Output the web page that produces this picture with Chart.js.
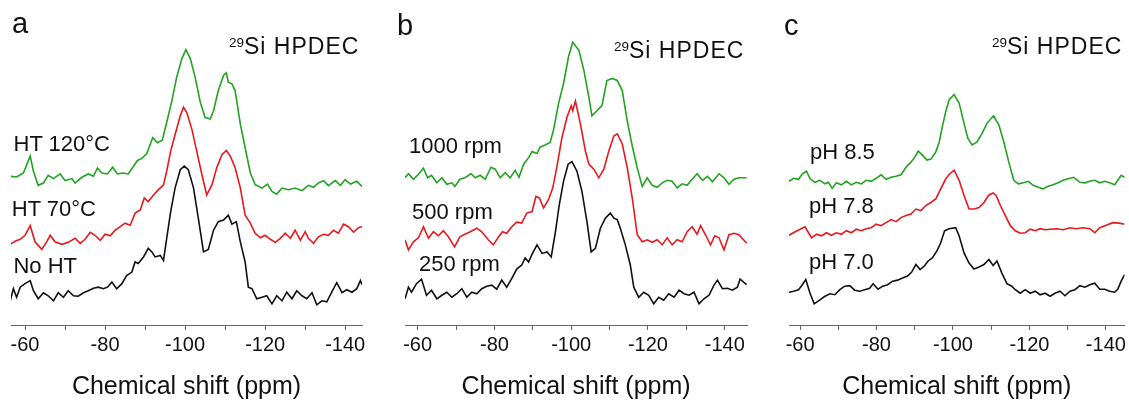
<!DOCTYPE html>
<html>
<head>
<meta charset="utf-8">
<script src="https://cdn.jsdelivr.net/npm/chart.js@4.4.0/dist/chart.umd.min.js"></script>
<style>
  body { margin: 0; background: #fff; }
  #wrap { position: relative; width: 1129px; height: 400px; overflow: hidden; font-family: "Liberation Sans", Arial, sans-serif; color: #111; }
  canvas { position: absolute; top: 0; }
  .txt { position: absolute; white-space: nowrap; line-height: 1; }
  .letter { font-size: 29px; }
  .tag { font-size: 22px; }
  .nmr { font-size: 23px; letter-spacing: 1px; }
  .nmr span { font-size: 13.5px; letter-spacing: 0; position: relative; top: -6.5px; }
</style>
</head>
<body>
<div id="wrap">
  <canvas id="panel_a" width="375" height="400" style="left:0px"></canvas>
  <canvas id="panel_b" width="370" height="400" style="left:390px"></canvas>
  <canvas id="panel_c" width="354" height="400" style="left:775px"></canvas>

  <div class="txt letter" style="left:12px;top:9px">a</div>
  <div class="txt letter" style="left:397px;top:10.5px">b</div>
  <div class="txt letter" style="left:784px;top:10.5px">c</div>

  <div class="txt nmr" style="left:229px;top:34.5px"><span>29</span>Si HPDEC</div>
  <div class="txt nmr" style="left:614px;top:38.8px"><span>29</span>Si HPDEC</div>
  <div class="txt nmr" style="left:992px;top:34.8px"><span>29</span>Si HPDEC</div>

  <div class="txt tag" style="left:13.5px;top:133px">HT 120°C</div>
  <div class="txt tag" style="left:11.8px;top:198px">HT 70°C</div>
  <div class="txt tag" style="left:13.4px;top:254.6px">No HT</div>

  <div class="txt tag" style="left:409px;top:134.6px">1000 rpm</div>
  <div class="txt tag" style="left:412px;top:200.6px">500 rpm</div>
  <div class="txt tag" style="left:419px;top:253px">250 rpm</div>

  <div class="txt tag" style="left:810px;top:140.6px">pH 8.5</div>
  <div class="txt tag" style="left:809px;top:195.3px">pH 7.8</div>
  <div class="txt tag" style="left:809px;top:250.6px">pH 7.0</div>
</div>

<script>
const FONT = "'Liberation Sans', Arial, sans-serif";

// TICKS (ppm)
const tickValues = [-60, -70, -80, -90, -100, -110, -120, -130, -140];
const labelValues = [-60, -80, -100, -120, -140];

// AXIS RANGES [left, right] in ppm
const aRange = [-56.5, -144.2];
const bRange = [-56.7, -145.8];
const cRange = [-57.1, -144.9];

// COLORS
const greenColor = "#22a322";
const redColor = "#e8191c";
const blackColor = "#111111";

// PANEL A - heat treatment  [ppm, intensity incl. stack offset]
const aGreen = [[-56.3,147.5],[-57.9,146.8],[-59.6,150.8],[-61.3,167.5],[-62.1,152.5],[-63.3,138.5],[-64.6,140.8],[-65.8,148.5],[-67.1,145.2],[-68.8,149.8],[-70,143.2],[-71.7,145.2],[-72.5,140.8],[-74.2,146.5],[-75.8,149.8],[-77.1,147.5],[-78.1,155.8],[-79.2,150.8],[-80.6,149.8],[-81.9,156.5],[-83.1,149.8],[-84.4,150.8],[-85.8,149.8],[-87.1,157.5],[-88.1,163.2],[-89.2,165.2],[-90.4,169.8],[-91.9,185.8],[-93.1,180.8],[-94.3,183.2],[-95.4,200.8],[-96.7,222.5],[-97.9,245.8],[-99.2,264.2],[-100.2,273],[-101.3,264.2],[-102.5,245.8],[-103.8,220.8],[-105,205.8],[-106.3,204.2],[-107.1,212.5],[-108.3,232.5],[-109.6,247.5],[-110.3,250.2],[-110.8,240.8],[-111.7,239.2],[-112.5,232.5],[-113.8,199.2],[-115,175.8],[-116.3,150.8],[-117.5,139.2],[-119.2,135.8],[-120.6,139.8],[-121.7,132.5],[-122.9,129.8],[-124.2,135.8],[-125.8,134.2],[-127.5,135.8],[-129.2,133.2],[-130.8,138.5],[-132.1,136.5],[-133.3,140.8],[-134.6,143.2],[-135.8,138.2],[-137.5,143.2],[-138.8,138.5],[-140,144.2],[-141.3,139.8],[-142.9,142.5],[-144.2,137.5]];
const aRed = [[-56.3,80],[-57.5,83],[-58.8,85],[-60,89],[-61.3,98.5],[-62.5,82.5],[-64.2,75],[-65.4,82.5],[-66.3,89],[-67.5,82.5],[-69.2,80],[-70.8,82],[-72.5,86],[-73.8,81],[-75,85],[-76.3,92],[-77.5,89],[-78.8,84],[-80,90],[-81.3,88.5],[-82.5,94],[-83.8,97.5],[-85,101],[-86.3,99],[-87.5,111],[-88.8,114],[-89.8,126],[-90.8,122.5],[-92.1,129],[-93.3,134],[-94.6,139],[-95.4,152.5],[-96.4,172.5],[-97.5,189],[-98.8,207.5],[-99.6,216],[-100.4,211],[-101.7,194],[-102.9,172.5],[-104.2,149],[-105.4,129],[-106.7,139],[-107.9,156],[-109.2,169],[-110.3,173],[-111.3,167.5],[-112.5,156],[-113.8,136],[-115,109],[-116.3,101],[-117.5,91],[-118.8,86.5],[-120,89],[-121.3,85],[-122.5,82],[-123.8,86],[-125,91],[-126.3,86],[-127.5,94],[-128.8,84],[-130,92.5],[-130.8,86],[-132.1,81],[-133.3,87.5],[-134.6,90],[-135.8,89],[-137.1,94],[-138.3,91],[-139.6,100],[-140.8,97.5],[-142.1,92],[-143.3,96.5],[-144.2,97.5]];
const aBlack = [[-56.3,24],[-57.1,36],[-57.9,27.5],[-58.8,37.5],[-60,41],[-61.3,44],[-62.1,34],[-63.3,26],[-64.6,32],[-65.8,29],[-67.1,24],[-68.3,32],[-69.6,27.5],[-70.8,34],[-72.1,29],[-73.3,28.5],[-74.6,32],[-75.8,34],[-77.1,36.5],[-78.3,37.5],[-79.6,36],[-80.6,37.5],[-81.7,42.5],[-82.9,36],[-84.2,41],[-85.4,49],[-86.7,52.5],[-87.5,62.5],[-88.3,61],[-89.6,67.5],[-90.8,76],[-91.7,72.5],[-92.5,67.5],[-93.8,69],[-94.6,64],[-95.4,86],[-96.4,112.5],[-97.5,136],[-98.8,154],[-99.8,157.5],[-100.8,154],[-102.1,136],[-103.3,106],[-104.6,72.5],[-105.8,75],[-107.1,94],[-108.3,102.5],[-109.6,104],[-110.8,109],[-111.7,100],[-112.8,102.5],[-113.8,82.5],[-115,62.5],[-115.8,37.5],[-116.7,36],[-117.9,26],[-119.2,27.5],[-120.4,29],[-121.7,21],[-122.9,29],[-124.2,24],[-125.4,32.5],[-126.7,26],[-127.9,34],[-129.2,29],[-130.4,26],[-131.7,32],[-132.9,20],[-134.2,24],[-135.4,23],[-136.7,33],[-137.9,42],[-139.2,32],[-140.4,35],[-141.7,32.5],[-142.9,36],[-143.8,44],[-144.2,40]];

// PANEL B - stirring speed
const bGreen = [[-56.7,146],[-57.6,150],[-58.9,144.5],[-60.2,149.5],[-61.5,155.5],[-62.6,146],[-63.6,148.5],[-65,141],[-66.3,146],[-67.6,139.5],[-68.9,141],[-69.7,137.5],[-71,144.5],[-72.3,146],[-73.9,150],[-75,146],[-76.3,148.5],[-77.6,144.5],[-79.1,156.5],[-80.2,154.5],[-81.5,146],[-82.8,151],[-84.1,146],[-85.4,153.5],[-86.4,146.5],[-87.6,159.5],[-88.9,166],[-89.8,172],[-91.1,170],[-91.9,176.5],[-93.2,178.5],[-94.5,181],[-95.4,193.5],[-96.7,219.5],[-98,239.5],[-99.3,266],[-100.4,280.5],[-102,272.5],[-103.3,252.5],[-104.6,226],[-105.4,207.5],[-106.7,212.5],[-108,217.5],[-109.3,242.5],[-110.7,244.5],[-112,242.5],[-113.3,232.5],[-114.6,202.5],[-115.9,177.5],[-117.2,156],[-118.5,137.5],[-119.8,146],[-121.1,138.5],[-122.4,136.5],[-123.7,141],[-125,143.5],[-126.3,142.5],[-127.6,136],[-128.9,140],[-130.2,138.5],[-131.5,144.5],[-132.8,150],[-134.2,143.5],[-135.5,147.5],[-136.8,142],[-138.5,150],[-139.8,146],[-141.1,139.5],[-142.4,144.5],[-143.7,146],[-145.7,146]];
const bRed = [[-56.7,84.5],[-57.6,74.5],[-58.9,82.5],[-60.2,86.5],[-61.5,97.5],[-62.8,86],[-64.1,92.5],[-65.4,88.5],[-66.7,93.5],[-68,87.5],[-69.6,77.5],[-71,87.5],[-72.3,90],[-73.7,92.5],[-75.4,96],[-76.7,92.5],[-78.4,84.5],[-79.7,79.5],[-81.1,87.5],[-82.1,92.5],[-83.2,91],[-84.5,97.5],[-85.8,102],[-87.1,101],[-88.4,111],[-89.8,112.5],[-90.8,127.5],[-91.7,126],[-92.8,116],[-94.1,124.5],[-95.2,136],[-96.3,157.5],[-97.6,186],[-98.9,206],[-100,217.5],[-100.4,212.5],[-101.1,222],[-102.4,199.5],[-103.7,172.5],[-104.6,159.5],[-105.9,154.5],[-107.2,146],[-108.5,154.5],[-109.8,172.5],[-111.1,187.5],[-112,189.5],[-113.3,179.5],[-114.6,156],[-115.9,126],[-117.2,89.5],[-118.5,82.5],[-119.8,84.5],[-121.1,82],[-122.4,84.5],[-123.7,79.5],[-125,86.5],[-126.3,79.5],[-127.6,84.5],[-128.9,82.5],[-130.2,92.5],[-131.5,97.5],[-132.8,90],[-133.7,98.5],[-135,89.5],[-136.3,79.5],[-137.4,88.5],[-138.5,86.5],[-139.8,74.5],[-141.1,89.5],[-142.4,91],[-143.7,89.5],[-145.7,81]];
const bBlack = [[-56.7,26],[-57.6,37.5],[-58.4,32.5],[-59.7,41],[-61,45.5],[-62.3,29.5],[-63.6,34.5],[-65,26],[-66.3,29.5],[-67.6,32.5],[-68.9,27.5],[-70.2,31],[-71.5,36],[-72.8,27.5],[-74.1,32.5],[-75.4,31],[-76.7,36],[-78,38.5],[-79.3,39.5],[-80.6,35.5],[-81.9,44.5],[-83.2,37.5],[-84.5,46],[-85.8,55.5],[-87.1,59.5],[-88,66.5],[-88.9,62.5],[-89.9,71],[-91.1,79.5],[-92.4,71],[-93.7,72.5],[-94.8,67.5],[-95.9,92.5],[-96.9,119.5],[-98,142.5],[-99.2,159.5],[-100.2,162],[-101.5,152.5],[-102.8,132.5],[-104.1,102.5],[-105.2,72.5],[-106.3,76],[-107.6,96],[-108.9,106],[-110.2,111],[-111.1,106],[-112,104.5],[-112.8,96],[-114.1,79.5],[-115.4,59.5],[-116.3,37.5],[-117.6,27.5],[-118.9,32.5],[-120.2,29.5],[-121.5,21],[-122.8,27.5],[-124.1,24.5],[-125.4,31],[-126.8,27.5],[-128.1,34.5],[-129.4,31],[-130.7,29.5],[-132,32.5],[-133.3,21],[-134.6,26],[-135.9,29.5],[-137.2,39.5],[-138.1,44.5],[-139.4,36],[-140.7,36.5],[-142,34.5],[-143.3,37.5],[-144,45.5],[-145.7,40]];

// PANEL C - pH
const cGreen = [[-57.1,142.5],[-58.3,145.5],[-59.6,144.5],[-60.6,150],[-61.7,152.5],[-62.6,145],[-63.9,141.5],[-65.2,143.5],[-66.5,140],[-67.4,141.5],[-68.4,135.5],[-69.5,141],[-70.8,139],[-72.1,142.5],[-73.4,139],[-74.7,141.5],[-76,140],[-77.3,143.5],[-78.6,142.5],[-79.9,145.5],[-81.2,149],[-82.5,144.5],[-83.8,146.5],[-85.1,147.5],[-86.4,149],[-87.7,156.5],[-89,161.5],[-90,166.5],[-90.9,172.5],[-92,168.5],[-93.2,163.5],[-94.2,164.5],[-95.5,171.5],[-96.4,181.5],[-97.2,196.5],[-98.1,211.5],[-99,223.5],[-100.3,228.5],[-101.6,220],[-102.9,200],[-103.9,185],[-105,178.5],[-106.3,181.5],[-107.6,190],[-108.9,200],[-110.6,207.5],[-112,198.5],[-113.3,181.5],[-114.6,161.5],[-115.9,143.5],[-117.1,140],[-118.4,141],[-119.7,142.5],[-121,138.5],[-122.3,136.5],[-123.6,135],[-124.9,137.5],[-126.2,139],[-127.5,141],[-128.8,143.5],[-130.1,145],[-131.6,146.5],[-133.2,141.5],[-134.5,141],[-135.8,142.5],[-137.1,143.5],[-138.4,141],[-139.7,142.5],[-141,141],[-142.3,139],[-143.1,143.5],[-144,148.5],[-144.9,146.5]];
const cRed = [[-57.1,89],[-58.7,92.5],[-60,95],[-61.3,97.5],[-62.2,91.5],[-63,86.5],[-64.3,90],[-65.6,88.5],[-66.9,91.5],[-68.2,89],[-69.5,91.5],[-70.8,90],[-72.1,93.5],[-73.4,91.5],[-74.7,95],[-76,93.5],[-77.3,95.5],[-78.6,96.5],[-79.9,100],[-81.2,98.5],[-82.5,101.5],[-83.8,104.5],[-85.1,102.5],[-86.4,106.5],[-87.7,108.5],[-89,110],[-90.3,115],[-91.6,113.5],[-92.9,118.5],[-94.2,121.5],[-95.5,125],[-96.8,135],[-98.1,145],[-99.2,150],[-100.3,153.5],[-101.6,143.5],[-102.9,128.5],[-104.2,115],[-105.5,115],[-106.8,116.5],[-108.1,121.5],[-109.4,129],[-110.5,131],[-111.3,128.5],[-112.4,118.5],[-113.7,108.5],[-115,98.5],[-116.3,93.5],[-117.6,91],[-118.9,91.5],[-120.2,95],[-121.5,93.5],[-122.8,95.5],[-124.1,94.5],[-125.4,95],[-127.1,95.5],[-128.8,94.5],[-130.6,96.5],[-132.3,95.5],[-134,96.5],[-135.8,95.5],[-137.1,91.5],[-138.4,96.5],[-140.1,99],[-141.8,101.5],[-143.5,101],[-144.9,100]];
const cBlack = [[-57.1,32.5],[-58.3,33.5],[-59.6,35],[-60.4,39],[-61.5,45],[-62.6,31.5],[-63.7,21],[-65.2,25],[-66.5,28.5],[-67.8,31],[-69.1,30],[-70.4,35],[-71.7,38.5],[-73,39],[-74.3,34.5],[-75.6,33.5],[-76.9,35],[-78.2,36.5],[-79.1,41],[-80.4,35.5],[-81.6,38.5],[-82.9,40],[-84.2,43.5],[-85.5,44.5],[-86.8,46.5],[-88.1,48.5],[-89.2,52.5],[-90.3,60],[-91.4,55],[-92.5,58.5],[-93.5,63.5],[-94.6,66.5],[-95.8,73.5],[-96.8,81.5],[-97.8,93.5],[-99,95.5],[-100.7,96.5],[-101.6,88.5],[-102.9,71.5],[-104.2,61.5],[-105.5,55.5],[-106.8,57.5],[-108.1,60],[-109.4,65],[-110.5,59],[-111.5,63.5],[-112.8,51.5],[-114.1,41],[-115.4,38.5],[-116.3,35],[-117.6,31.5],[-118.9,35],[-120.2,31.5],[-121.5,33.5],[-122.8,30],[-124.1,31.5],[-125.4,28.5],[-126.7,31.5],[-128,33.5],[-129.3,29],[-130.6,33.5],[-131.9,35],[-133.2,39],[-134.5,37.5],[-135.8,40],[-137.1,41.5],[-138.4,35.5],[-139.7,35.5],[-141,33.5],[-142.3,32.5],[-143.1,35.5],[-144,43.5],[-144.9,50]];

// BUILD ONE PANEL
function makePanel(id, traces, range, pad) {
  const ctx = document.getElementById(id).getContext("2d");
  return new Chart(ctx, {
    type: "line",
    data: {
      datasets: traces.map((t) => ({
        data: t.points.map((p) => ({ x: p[0], y: p[1] })),
        borderColor: t.color,
        borderWidth: 1.6,
        pointRadius: 0,
        fill: false,
        tension: 0,
      })),
    },
    options: {
      responsive: false,
      animation: false,
      devicePixelRatio: 1,
      layout: { padding: { left: pad[0], right: pad[1], top: 22.5, bottom: 0 } },
      plugins: { legend: { display: false }, tooltip: { enabled: false } },
      scales: {
        x: {
          type: "linear",
          reverse: true,
          min: range[1],
          max: range[0],
          afterBuildTicks: (scale) => {
            scale.ticks = tickValues.map((v) => ({ value: v }));
          },
          ticks: {
            autoSkip: false,
            maxRotation: 0,
            padding: 3,
            color: "#111",
            font: { family: FONT, size: 20 },
            callback: (v) => (labelValues.includes(v) ? String(v) : ""),
          },
          grid: { drawOnChartArea: false, drawTicks: true, tickLength: 5, color: "#666", lineWidth: 1 },
          border: { display: true, color: "#666", width: 1 },
          title: {
            display: true,
            text: "Chemical shift (ppm)",
            color: "#111",
            font: { family: FONT, size: 25, lineHeight: 1.0 },
            padding: { top: 15, bottom: 0 },
          },
        },
        y: { display: false, min: 0, max: 300 },
      },
    },
  });
}

makePanel("panel_a", [
  { points: aGreen, color: greenColor },
  { points: aRed, color: redColor },
  { points: aBlack, color: blackColor },
], aRange, [11, 13]);

makePanel("panel_b", [
  { points: bGreen, color: greenColor },
  { points: bRed, color: redColor },
  { points: bBlack, color: blackColor },
], bRange, [15, 13]);

makePanel("panel_c", [
  { points: cGreen, color: greenColor },
  { points: cRed, color: redColor },
  { points: cBlack, color: blackColor },
], cRange, [14, 2]);
</script>
</body>
</html>
